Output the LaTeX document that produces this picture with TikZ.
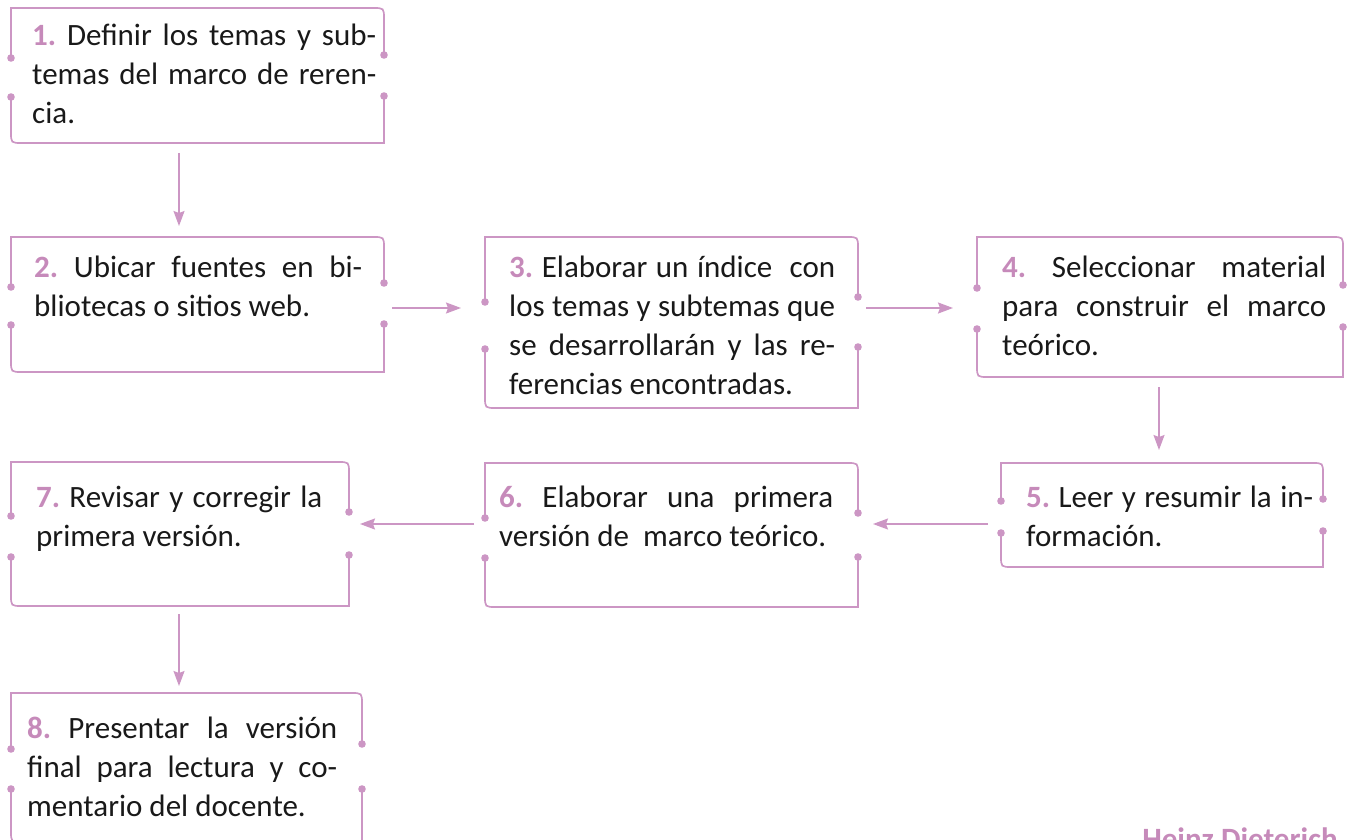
\documentclass[tikz,border=0pt]{standalone}
\usepackage{fontspec}
\setmainfont{Carlito}
\usetikzlibrary{arrows.meta, positioning, fit}
\definecolor{framepink}{RGB}{204,150,196}
\definecolor{numpink}{RGB}{198,138,186}
\definecolor{bodytext}{RGB}{25,25,25}
\newcommand{\snum}[1]{\textcolor{numpink}{\bfseries #1}}
\tolerance=9999
\frenchspacing

\begin{document}
\begin{tikzpicture}[x=1pt, y=-1pt,
    boxarea/.style={draw=none, inner sep=0pt, outer sep=0pt},
    stepframe/.style={draw=framepink, line width=1.7pt},
    stepdot/.style={fill=framepink},
    steptext/.style={anchor=north west, inner sep=0pt, align=justify,
                     text=bodytext, font=\fontsize{31}{39}\selectfont},
    flow/.style={-{Stealth[length=15pt,width=11pt,inset=2pt]},
                 line width=1.6pt, draw=framepink},
    source/.style={anchor=base east, inner sep=0pt, text=numpink,
                   font=\fontsize{31}{39}\selectfont\bfseries},
]
\useasboundingbox (0,0) rectangle (1353,840);

% ======================================================
% Frames: open brackets with a dot at each gap end,
% top-right and bottom-left corners rounded.
% ======================================================
\foreach \n/\xa/\ya/\xb/\yb/\la/\lb/\ra/\rb in {
    1/11/8/384/143/58/97/55/96,
    2/11/237/384/372/287/325/283/324,
    3/485/237/858/408/302/349/297/347,
    4/977/237/1343/377/288/329/285/327,
    5/1001/463/1323/567/501/533/499/531,
    6/485/463/858/607/518/558/513/557,
    7/11/462/349/606/516/557/512/555,
    8/11/693/362/842/749/789/744/789} {
  \node[boxarea, fit={(\xa,\ya) (\xb,\yb)}] (b\n) {};
  \draw[stepframe] (\xa,\la) -- (\xa,\ya) -- ({\xb-11},\ya)
       .. controls (\xb,\ya) .. (\xb,{\ya+11}) -- (\xb,\ra);
  \draw[stepframe] (\xb,\rb) -- (\xb,\yb) -- ({\xa+11},\yb)
       .. controls (\xa,\yb) .. (\xa,{\yb-11}) -- (\xa,\lb);
  \foreach \p in {(\xa,\la), (\xa,\lb), (\xb,\ra), (\xb,\rb)}
    \fill[stepdot] \p circle[radius=3.8];
}

% ======================================================
% Step texts
% ======================================================
\node[steptext, text width=344] (t1) at (32,17.7)
  {\strut\snum{1.} Definir los temas y sub-\linebreak
   temas del marco de reren-\linebreak cia.};
\node[steptext, text width=328] (t2) at (34,249.7)
  {\strut\snum{2.} Ubicar fuentes en bi-\linebreak
   bliotecas o sitios web.};
\node[steptext, text width=326] (t3) at (509,249.7)
  {\strut\snum{3.} Elaborar un índice\ \ con\linebreak
   los temas y subtemas que\linebreak
   se desarrollarán y las re-\linebreak ferencias encontradas.};
\node[steptext, text width=324] (t4) at (1002,249.7)
  {\strut\snum{4.} Seleccionar material\linebreak
   para construir el marco\linebreak teórico.};
\node[steptext, text width=287] (t5) at (1026,479.7)
  {\strut\snum{5.} Leer y resumir la in-\linebreak formación.};
\node[steptext, text width=334] (t6) at (499,479.7)
  {\strut\snum{6.} Elaborar una primera\linebreak
   versión de\ \ marco teórico.};
\node[steptext, text width=286] (t7) at (36,479.7)
  {\strut\snum{7.} Revisar y corregir la\linebreak primera versión.};
\node[steptext, text width=310] (t8) at (27,710.7)
  {\strut\snum{8.} Presentar la versión\linebreak
   final para lectura y co-\linebreak mentario del docente.};

% source, cut by the page edge as in the original
\node[source] (src) at (1338,849) {Heinz Dieterich};

% ======================================================
% Flow arrows between frames
% ======================================================
\coordinate (row1) at (0,308);
\coordinate (row2) at (0,524);
\coordinate (col1) at (179,0);
\coordinate (col2) at (1159,0);

\draw[flow, shorten <=10pt, shorten >=11pt] (b1.south -| col1) -- (b2.north -| col1);
\draw[flow, shorten <=8pt, shorten >=24pt] (b2.east |- row1) -- (b3.west |- row1);
\draw[flow, shorten <=8pt, shorten >=24pt] (b3.east |- row1) -- (b4.west |- row1);
\draw[flow, shorten <=10pt, shorten >=13pt] (b4.south -| col2) -- (b5.north -| col2);
\draw[flow, shorten <=13pt, shorten >=15pt] (b5.west |- row2) -- (b6.east |- row2);
\draw[flow, shorten <=11pt, shorten >=11pt] (b6.west |- row2) -- (b7.east |- row2);
\draw[flow, shorten <=8pt, shorten >=7pt] (b7.south -| col1) -- (b8.north -| col1);

\end{tikzpicture}
\end{document}
